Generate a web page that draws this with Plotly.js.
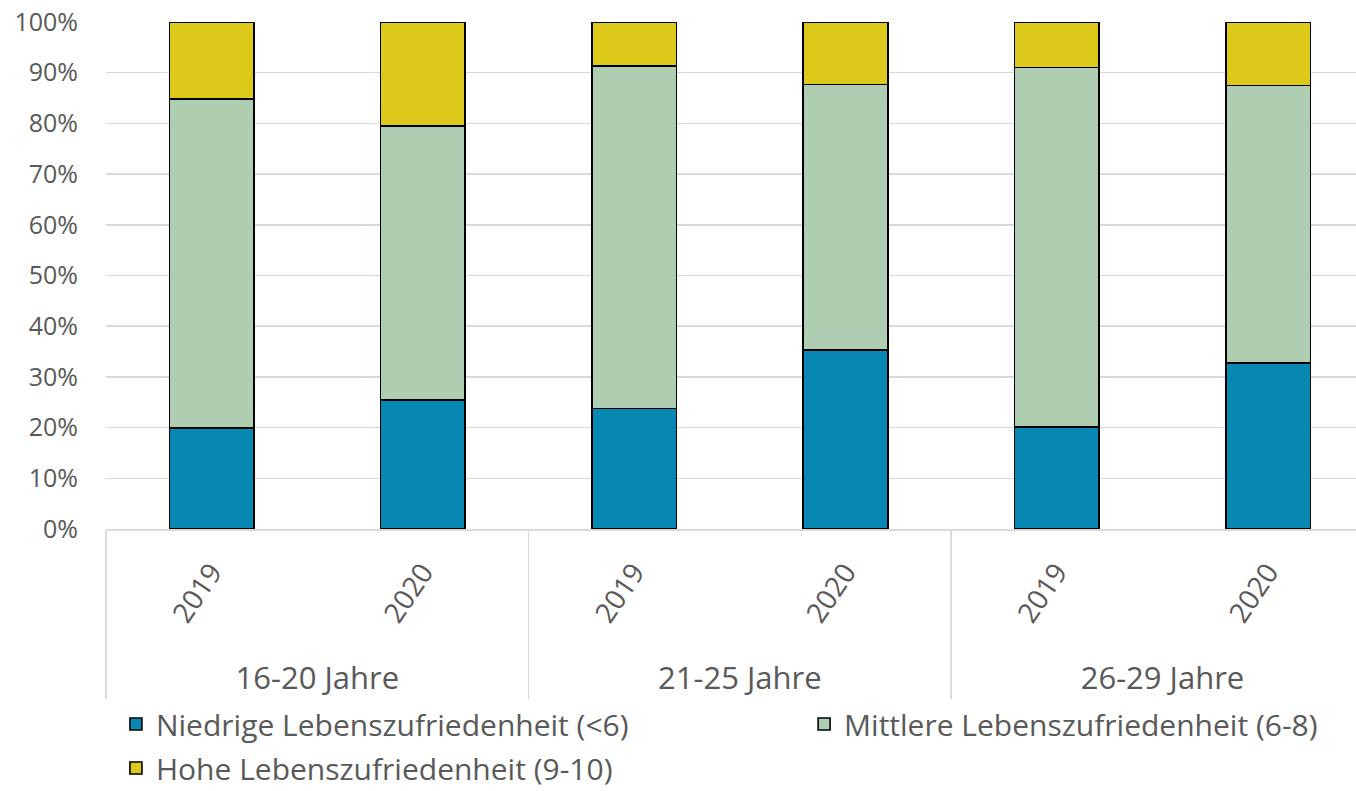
<!DOCTYPE html>
<html>
<head>
<meta charset="utf-8">
<script src="https://cdn.plot.ly/plotly-3.0.1.min.js"></script>
<style>html,body{margin:0;padding:0;background:#fff;}#chart{width:1356px;height:791px;}</style>
</head>
<body>
<div id="chart"></div>
<script>
const ageGroups = ["16-20 Jahre", "16-20 Jahre", "21-25 Jahre", "21-25 Jahre", "26-29 Jahre", "26-29 Jahre"];
const years = ["2019", "2020", "2019", "2020", "2019", "2020"];
const seriesNames = ["Niedrige Lebenszufriedenheit (<6)", "Mittlere Lebenszufriedenheit (6-8)", "Hohe Lebenszufriedenheit (9-10)"];
const niedrig = [19.9, 25.4, 23.8, 35.3, 20.1, 32.7];
const mittel = [64.9, 54.1, 67.5, 52.4, 70.9, 54.8];
const hoch = [15.2, 20.5, 8.7, 12.3, 9.0, 12.5];
const colors = ["#0788b2", "#afcdb0", "#ddc91a"];
const legendSlots = ["legend", "legend2", "legend"];

const FONT = "Open Sans, sans-serif";
const TXT = "#595959";
const seriesValues = [niedrig, mittel, hoch];
const groupLabels = ageGroups.map(g => '<span style="font-size:31px">' + g + '</span>');
// leading non-breaking spaces only pad the rotated label box (text is end-anchored)
const yearLabels = years.map(y => '\u00A0\u00A0' + y);

const traces = seriesValues.map((vals, i) => ({
  type: "bar",
  name: seriesNames[i],
  legend: legendSlots[i],
  legendgroup: "g" + i,
  x: [groupLabels, yearLabels],
  y: vals,
  marker: {color: colors[i], line: {color: "#000000", width: 1.6}},
  hoverinfo: "y+name"
}));

const legendBase = {
  orientation: "v",
  traceorder: "grouped",
  xref: "container",
  yref: "container",
  xanchor: "left",
  yanchor: "top",
  y: 0.1175,
  tracegroupgap: 2,
  font: {family: FONT, size: 30, color: TXT},
  bgcolor: "rgba(0,0,0,0)",
  borderwidth: 0
};

const layout = {
  width: 1356,
  height: 791,
  paper_bgcolor: "#ffffff",
  plot_bgcolor: "#ffffff",
  barmode: "stack",
  bargap: 0.6,
  margin: {l: 106, r: 0, t: 22, b: 262, pad: 0, autoexpand: false},
  font: {family: FONT, color: TXT},
  xaxis: {
    type: "multicategory",
    range: [-0.5, 5.416],
    automargin: false,
    showline: true,
    linecolor: "#d9d9d9",
    linewidth: 1.5,
    showgrid: false,
    showdividers: true,
    dividercolor: "#d9d9d9",
    dividerwidth: 1.5,
    ticks: "",
    tickangle: -56,
    ticklabelstandoff: 14,
    tickfont: {family: FONT, size: 28, color: TXT}
  },
  yaxis: {
    range: [0, 100],
    dtick: 10,
    ticksuffix: "%",
    automargin: false,
    showgrid: true,
    gridcolor: "#d9d9d9",
    gridwidth: 1.5,
    zeroline: false,
    showline: false,
    ticks: "",
    ticklabelstandoff: 27,
    tickfont: {family: FONT, size: 25, color: TXT}
  },
  showlegend: true,
  legend: Object.assign({}, legendBase, {x: 0.0855}),
  legend2: Object.assign({}, legendBase, {x: 0.593})
};

Plotly.newPlot("chart", traces, layout, {displayModeBar: false, staticPlot: true});
</script>
</body>
</html>
